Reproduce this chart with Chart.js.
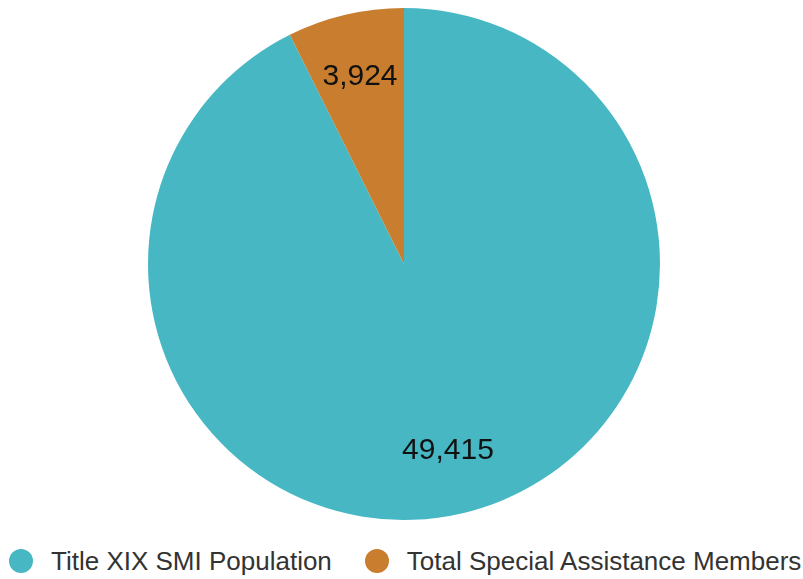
<!DOCTYPE html>
<html>
<head>
<meta charset="utf-8">
<script src="https://cdn.jsdelivr.net/npm/chart.js@4/dist/chart.umd.min.js"></script>
<style>
body{margin:0;background:#fff;font-family:"Liberation Sans",Arial,sans-serif;}
#wrap{position:relative;width:803px;height:579px;}
#box{position:absolute;left:0;top:0;width:803px;height:520px;}
#legend{position:absolute;left:9px;top:546px;display:flex;align-items:center;}
.item{display:flex;align-items:center;margin-right:33px;}
.dot{width:24px;height:24px;border-radius:50%;margin-right:18px;}
.txt{font-size:26px;line-height:30px;color:#333;white-space:nowrap;}
</style>
</head>
<body>
<div id="wrap">
<div id="box"><canvas id="pieChart"></canvas></div>
<div id="legend"></div>
</div>
<script>
const labels=["Title XIX SMI Population","Total Special Assistance Members"];
const values=[49415,3924];
const colors=["#47B8C3","#C87D2F"];

// value text inside each slice, three quarters of the way out
const valueLabels={
id:"valueLabels",
afterDatasetsDraw(chart){
const ctx=chart.ctx;
const meta=chart.getDatasetMeta(0);
ctx.save();
ctx.font='30px "Liberation Sans", Arial, sans-serif';
ctx.fillStyle="#111";
ctx.textAlign="center";
ctx.textBaseline="middle";
meta.data.forEach((arc,i)=>{
const p=arc.getProps(["x","y","startAngle","endAngle","outerRadius"],true);
const mid=(p.startAngle+p.endAngle)/2;
const r=p.outerRadius*0.75;
ctx.fillText(
values[i].toLocaleString("en-US"),
p.x+Math.cos(mid)*r,
p.y+Math.sin(mid)*r
);
});
ctx.restore();
}
};

new Chart(
document.getElementById("pieChart"),
{
type:"pie",
data:{
labels:labels,
datasets:[{
data:values,
backgroundColor:colors,
borderWidth:0
}]
},
options:{
responsive:true,
maintainAspectRatio:false,
animation:false,
layout:{padding:{top:8,left:5}},
plugins:{
legend:{display:false},
tooltip:{enabled:false}
}
},
plugins:[valueLabels]
}
);

// legend row under the pie
const legend=document.getElementById("legend");
labels.forEach((name,i)=>{
const item=document.createElement("div");
item.className="item";
const dot=document.createElement("span");
dot.className="dot";
dot.style.background=colors[i];
const txt=document.createElement("span");
txt.className="txt";
txt.textContent=name;
item.appendChild(dot);
item.appendChild(txt);
legend.appendChild(item);
});
</script>
</body>
</html>
